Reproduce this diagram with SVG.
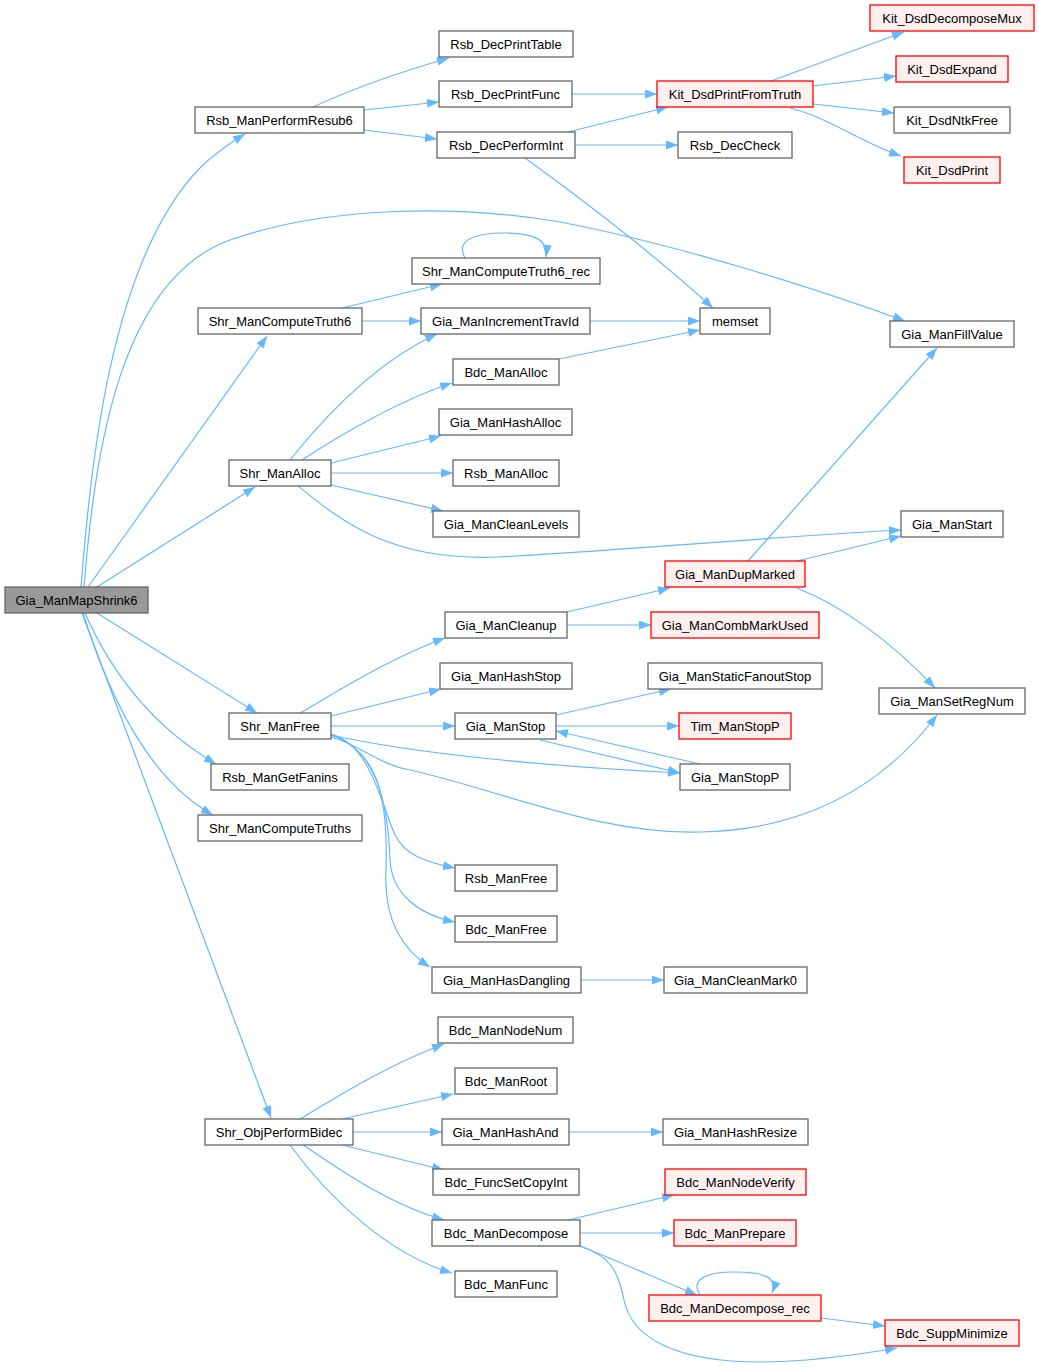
<svg xmlns="http://www.w3.org/2000/svg" width="1039" height="1368" viewBox="0 0 1039 1368">
<style>
.n rect{fill:#fff;stroke:#666;stroke-width:1.3}
.r rect{fill:#fff0f0;stroke:#f00;stroke-width:1.3}
.root rect{fill:#999;stroke:#666;stroke-width:1.3}
text{font-family:"Liberation Sans",Arial,sans-serif;font-size:13px;fill:#000;text-anchor:middle}
#edges path{fill:none;stroke:#63b8ff;stroke-width:1.2}
</style>
<defs>
<marker id="a" markerUnits="userSpaceOnUse" markerWidth="13" markerHeight="10" refX="12" refY="4.5" orient="auto"><path d="M0,0 L12,4.5 L0,9 z" fill="#63b8ff"/></marker>
</defs>
<rect width="1039" height="1368" fill="#fff"/>
<g id="edges">
<path marker-end="url(#a)" d="M81,587 C90,470 110,260 200,168 C212,156 225,146 245,134"/>
<path marker-end="url(#a)" d="M84,587 C95,450 120,280 230,240 C330,205 460,205 560,222 C680,245 820,290 905,321"/>
<path marker-end="url(#a)" d="M88,587 L267,336"/>
<path marker-end="url(#a)" d="M97,587 L255,487"/>
<path marker-end="url(#a)" d="M97,613 L257,713"/>
<path marker-end="url(#a)" d="M85,613 C110,670 150,725 216,764"/>
<path marker-end="url(#a)" d="M83,613 C110,700 150,780 213,815"/>
<path marker-end="url(#a)" d="M82,613 L271,1118"/>
<path marker-end="url(#a)" d="M313,107 C350,90 400,72 449,58"/>
<path marker-end="url(#a)" d="M364,110 L439,102"/>
<path marker-end="url(#a)" d="M364,130 L437,139"/>
<path marker-end="url(#a)" d="M572,94 L657,94"/>
<path marker-end="url(#a)" d="M568,132 L668,107"/>
<path marker-end="url(#a)" d="M575,145 L678,145"/>
<path marker-end="url(#a)" d="M525,158 C590,205 660,260 713,308"/>
<path marker-end="url(#a)" d="M771,81 L904,32"/>
<path marker-end="url(#a)" d="M813,86 L896,76"/>
<path marker-end="url(#a)" d="M813,104 L894,113"/>
<path marker-end="url(#a)" d="M790,108 C830,118 860,142 901,156"/>
<path marker-end="url(#a)" d="M465,258 C455,240 475,233 505,233 C535,233 548,240 546,257"/>
<path marker-end="url(#a)" d="M342,308 L442,284"/>
<path marker-end="url(#a)" d="M362,321 L421,321"/>
<path marker-end="url(#a)" d="M590,321 L700,321"/>
<path marker-end="url(#a)" d="M559,359 L700,330"/>
<path marker-end="url(#a)" d="M290,460 C330,410 380,360 437,334"/>
<path marker-end="url(#a)" d="M302,460 C340,435 400,400 452,383"/>
<path marker-end="url(#a)" d="M331,463 L441,436"/>
<path marker-end="url(#a)" d="M331,473 L453,473"/>
<path marker-end="url(#a)" d="M331,485 L443,511"/>
<path marker-end="url(#a)" d="M298,486 C340,520 390,562 500,557 C650,548 800,535 901,530"/>
<path marker-end="url(#a)" d="M748,561 L937,348"/>
<path marker-end="url(#a)" d="M797,561 L901,536"/>
<path marker-end="url(#a)" d="M797,588 C840,605 890,640 935,688"/>
<path marker-end="url(#a)" d="M567,612 L670,588"/>
<path marker-end="url(#a)" d="M567,625 L651,625"/>
<path marker-end="url(#a)" d="M300,713 C340,690 390,658 445,638"/>
<path marker-end="url(#a)" d="M331,716 L441,689"/>
<path marker-end="url(#a)" d="M331,726 L455,726"/>
<path marker-end="url(#a)" d="M331,735 C420,755 560,767 680,773"/>
<path marker-end="url(#a)" d="M331,737 C360,745 380,765 410,770 C500,790 600,835 700,832 C800,830 880,790 937,715"/>
<path marker-end="url(#a)" d="M331,734 C370,745 380,800 395,835 C405,855 425,862 455,868"/>
<path marker-end="url(#a)" d="M331,735 C375,748 388,800 390,860 C392,895 420,915 455,922"/>
<path marker-end="url(#a)" d="M331,735 C380,752 388,800 386,870 C384,910 395,945 430,967"/>
<path marker-end="url(#a)" d="M556,715 L671,689"/>
<path marker-end="url(#a)" d="M556,726 L679,726"/>
<path marker-end="url(#a)" d="M540,740 L680,773"/>
<path marker-end="url(#a)" d="M700,764 L556,731"/>
<path marker-end="url(#a)" d="M581,980 L664,980"/>
<path marker-end="url(#a)" d="M300,1119 C340,1095 390,1064 444,1044"/>
<path marker-end="url(#a)" d="M342,1119 L453,1094"/>
<path marker-end="url(#a)" d="M353,1132 L442,1132"/>
<path marker-end="url(#a)" d="M342,1145 L444,1170"/>
<path marker-end="url(#a)" d="M303,1145 C340,1170 390,1205 444,1220"/>
<path marker-end="url(#a)" d="M290,1145 C330,1200 390,1255 452,1273"/>
<path marker-end="url(#a)" d="M569,1132 L663,1132"/>
<path marker-end="url(#a)" d="M568,1220 L674,1195"/>
<path marker-end="url(#a)" d="M580,1233 L674,1233"/>
<path marker-end="url(#a)" d="M580,1246 C620,1262 660,1280 697,1295"/>
<path marker-end="url(#a)" d="M580,1246 C610,1256 618,1270 624,1300 C632,1340 680,1362 760,1362 C800,1362 850,1356 897,1348"/>
<path marker-end="url(#a)" d="M700,1295 C690,1280 705,1272 735,1272 C765,1272 778,1278 772,1293"/>
<path marker-end="url(#a)" d="M821,1318 L885,1326"/>
</g>
<g id="Gia_ManMapShrink6" class="root"><rect x="5" y="587" width="143" height="26"/><text x="76.5" y="604.5">Gia_ManMapShrink6</text></g>
<g id="Rsb_ManPerformResub6" class="n"><rect x="195" y="107" width="169" height="26"/><text x="279.5" y="124.5">Rsb_ManPerformResub6</text></g>
<g id="Rsb_DecPrintTable" class="n"><rect x="439" y="31" width="134" height="26"/><text x="506" y="48.5">Rsb_DecPrintTable</text></g>
<g id="Rsb_DecPrintFunc" class="n"><rect x="439" y="81" width="133" height="26"/><text x="505.5" y="98.5">Rsb_DecPrintFunc</text></g>
<g id="Rsb_DecPerformInt" class="n"><rect x="437" y="132" width="138" height="26"/><text x="506" y="149.5">Rsb_DecPerformInt</text></g>
<g id="Kit_DsdPrintFromTruth" class="r"><rect x="657" y="81" width="156" height="26"/><text x="735" y="98.5">Kit_DsdPrintFromTruth</text></g>
<g id="Kit_DsdDecomposeMux" class="r"><rect x="870" y="5" width="164" height="26"/><text x="952" y="22.5">Kit_DsdDecomposeMux</text></g>
<g id="Kit_DsdExpand" class="r"><rect x="896" y="56" width="112" height="26"/><text x="952" y="73.5">Kit_DsdExpand</text></g>
<g id="Kit_DsdNtkFree" class="n"><rect x="894" y="107" width="116" height="26"/><text x="952" y="124.5">Kit_DsdNtkFree</text></g>
<g id="Rsb_DecCheck" class="n"><rect x="678" y="132" width="114" height="26"/><text x="735" y="149.5">Rsb_DecCheck</text></g>
<g id="Kit_DsdPrint" class="r"><rect x="904" y="157" width="96" height="26"/><text x="952" y="174.5">Kit_DsdPrint</text></g>
<g id="Shr_ManComputeTruth6_rec" class="n"><rect x="412" y="258" width="188" height="26"/><text x="506" y="275.5">Shr_ManComputeTruth6_rec</text></g>
<g id="Shr_ManComputeTruth6" class="n"><rect x="198" y="308" width="164" height="26"/><text x="280" y="325.5">Shr_ManComputeTruth6</text></g>
<g id="Gia_ManIncrementTravId" class="n"><rect x="421" y="308" width="169" height="26"/><text x="505.5" y="325.5">Gia_ManIncrementTravId</text></g>
<g id="memset" class="n"><rect x="700" y="308" width="70" height="26"/><text x="735" y="325.5">memset</text></g>
<g id="Gia_ManFillValue" class="n"><rect x="890" y="321" width="124" height="26"/><text x="952" y="338.5">Gia_ManFillValue</text></g>
<g id="Bdc_ManAlloc" class="n"><rect x="453" y="359" width="106" height="26"/><text x="506" y="376.5">Bdc_ManAlloc</text></g>
<g id="Gia_ManHashAlloc" class="n"><rect x="439" y="409" width="133" height="26"/><text x="505.5" y="426.5">Gia_ManHashAlloc</text></g>
<g id="Shr_ManAlloc" class="n"><rect x="229" y="460" width="102" height="26"/><text x="280" y="477.5">Shr_ManAlloc</text></g>
<g id="Rsb_ManAlloc" class="n"><rect x="453" y="460" width="106" height="26"/><text x="506" y="477.5">Rsb_ManAlloc</text></g>
<g id="Gia_ManCleanLevels" class="n"><rect x="433" y="511" width="146" height="26"/><text x="506" y="528.5">Gia_ManCleanLevels</text></g>
<g id="Gia_ManStart" class="n"><rect x="901" y="511" width="102" height="26"/><text x="952" y="528.5">Gia_ManStart</text></g>
<g id="Gia_ManDupMarked" class="r"><rect x="665" y="561" width="140" height="26"/><text x="735" y="578.5">Gia_ManDupMarked</text></g>
<g id="Gia_ManCleanup" class="n"><rect x="445" y="612" width="122" height="26"/><text x="506" y="629.5">Gia_ManCleanup</text></g>
<g id="Gia_ManCombMarkUsed" class="r"><rect x="651" y="612" width="168" height="26"/><text x="735" y="629.5">Gia_ManCombMarkUsed</text></g>
<g id="Gia_ManHashStop" class="n"><rect x="440" y="663" width="132" height="26"/><text x="506" y="680.5">Gia_ManHashStop</text></g>
<g id="Gia_ManStaticFanoutStop" class="n"><rect x="648" y="663" width="174" height="26"/><text x="735" y="680.5">Gia_ManStaticFanoutStop</text></g>
<g id="Gia_ManSetRegNum" class="n"><rect x="879" y="688" width="146" height="26"/><text x="952" y="705.5">Gia_ManSetRegNum</text></g>
<g id="Shr_ManFree" class="n"><rect x="229" y="713" width="102" height="26"/><text x="280" y="730.5">Shr_ManFree</text></g>
<g id="Gia_ManStop" class="n"><rect x="455" y="713" width="101" height="26"/><text x="505.5" y="730.5">Gia_ManStop</text></g>
<g id="Tim_ManStopP" class="r"><rect x="679" y="713" width="112" height="26"/><text x="735" y="730.5">Tim_ManStopP</text></g>
<g id="Gia_ManStopP" class="n"><rect x="680" y="764" width="110" height="26"/><text x="735" y="781.5">Gia_ManStopP</text></g>
<g id="Rsb_ManGetFanins" class="n"><rect x="211" y="764" width="138" height="26"/><text x="280" y="781.5">Rsb_ManGetFanins</text></g>
<g id="Shr_ManComputeTruths" class="n"><rect x="198" y="815" width="164" height="26"/><text x="280" y="832.5">Shr_ManComputeTruths</text></g>
<g id="Rsb_ManFree" class="n"><rect x="455" y="865" width="102" height="26"/><text x="506" y="882.5">Rsb_ManFree</text></g>
<g id="Bdc_ManFree" class="n"><rect x="455" y="916" width="102" height="26"/><text x="506" y="933.5">Bdc_ManFree</text></g>
<g id="Gia_ManHasDangling" class="n"><rect x="432" y="967" width="149" height="26"/><text x="506.5" y="984.5">Gia_ManHasDangling</text></g>
<g id="Gia_ManCleanMark0" class="n"><rect x="664" y="967" width="143" height="26"/><text x="735.5" y="984.5">Gia_ManCleanMark0</text></g>
<g id="Bdc_ManNodeNum" class="n"><rect x="438" y="1017" width="135" height="26"/><text x="505.5" y="1034.5">Bdc_ManNodeNum</text></g>
<g id="Bdc_ManRoot" class="n"><rect x="455" y="1068" width="102" height="26"/><text x="506" y="1085.5">Bdc_ManRoot</text></g>
<g id="Shr_ObjPerformBidec" class="n"><rect x="205" y="1119" width="148" height="26"/><text x="279" y="1136.5">Shr_ObjPerformBidec</text></g>
<g id="Gia_ManHashAnd" class="n"><rect x="442" y="1119" width="127" height="26"/><text x="505.5" y="1136.5">Gia_ManHashAnd</text></g>
<g id="Gia_ManHashResize" class="n"><rect x="663" y="1119" width="145" height="26"/><text x="735.5" y="1136.5">Gia_ManHashResize</text></g>
<g id="Bdc_FuncSetCopyInt" class="n"><rect x="433" y="1169" width="146" height="26"/><text x="506" y="1186.5">Bdc_FuncSetCopyInt</text></g>
<g id="Bdc_ManNodeVerify" class="r"><rect x="665" y="1169" width="141" height="26"/><text x="735.5" y="1186.5">Bdc_ManNodeVerify</text></g>
<g id="Bdc_ManDecompose" class="n"><rect x="432" y="1220" width="148" height="26"/><text x="506" y="1237.5">Bdc_ManDecompose</text></g>
<g id="Bdc_ManPrepare" class="r"><rect x="674" y="1220" width="122" height="26"/><text x="735" y="1237.5">Bdc_ManPrepare</text></g>
<g id="Bdc_ManFunc" class="n"><rect x="455" y="1271" width="102" height="26"/><text x="506" y="1288.5">Bdc_ManFunc</text></g>
<g id="Bdc_ManDecompose_rec" class="r"><rect x="649" y="1295" width="172" height="26"/><text x="735" y="1312.5">Bdc_ManDecompose_rec</text></g>
<g id="Bdc_SuppMinimize" class="r"><rect x="885" y="1320" width="134" height="26"/><text x="952" y="1337.5">Bdc_SuppMinimize</text></g>
</svg>
